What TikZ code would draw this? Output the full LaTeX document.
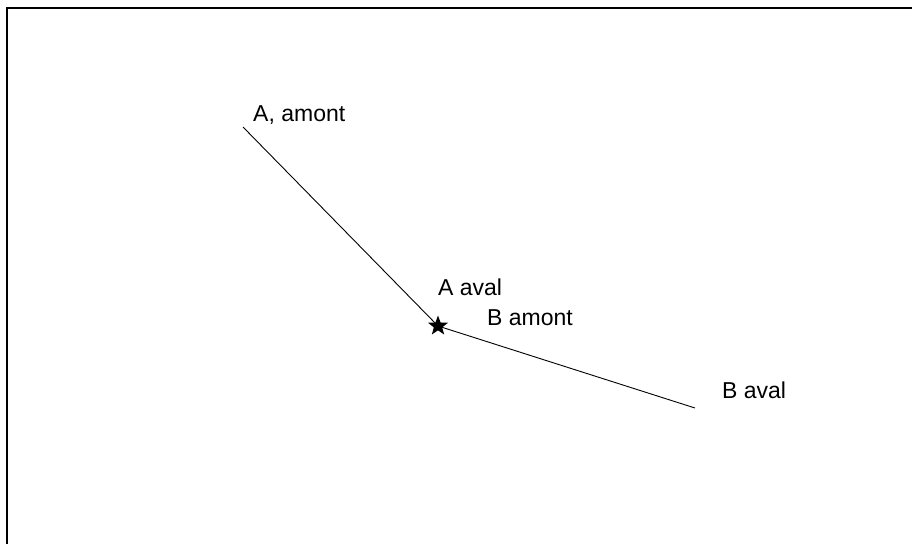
\documentclass[tikz,border=0pt]{standalone}
\usepackage{fontspec}
\setmainfont{Liberation Sans}
\usepackage{tikz}
\usetikzlibrary{shapes.geometric, positioning}

\begin{document}
\begin{tikzpicture}[x=1pt, y=-1pt,
        label/.style={anchor=base west, inner sep=0pt, font=\fontsize{23}{27}\selectfont},
        reach/.style={draw=black, line width=0.9pt},
        joint/.style={star, star points=5, star point ratio=2.4, fill=black, inner sep=0pt, minimum size=21pt}]
        \useasboundingbox (0,0) rectangle (912,544);

        % Cadre
        \draw [line width=2pt] (6.5,544) -- (6.5,7.5) -- (912,7.5);

        % Extremites des troncons
        \coordinate (aamont) at (243,127);
        \node [joint] (noeud) at (438,326) {};
        \coordinate (baval) at (695,408);

        \path [reach] (aamont) -- (noeud.center);
        \path [reach] (noeud.center) -- (baval);

        % Etiquettes
        \node [label] (tA1) at (253,121) {A, amont};
        \node [label] (tA2) at (438,295) {A aval};
        \node [label] (tB1) at (487,325) {B amont};
        \node [label] (tB2) at (722,398) {B aval};
    \end{tikzpicture}
\end{document}
